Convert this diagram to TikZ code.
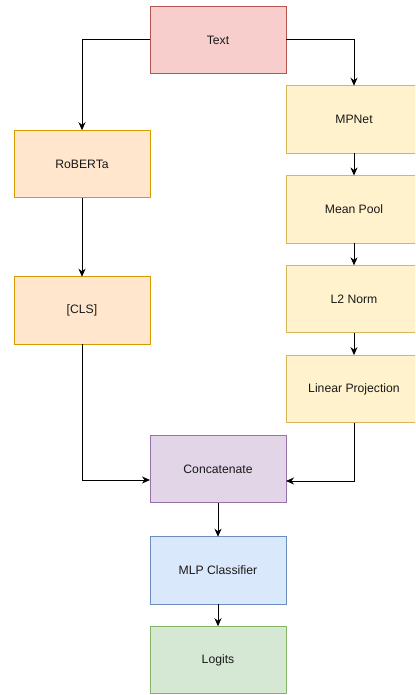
\documentclass[tikz,border=0pt]{standalone}
\usepackage{fontspec}
\setmainfont{Liberation Sans}
\usepackage{xcolor}
\usetikzlibrary{arrows.meta, positioning}

\definecolor{redfill}{HTML}{F8CECC}  \definecolor{redline}{HTML}{B85450}
\definecolor{orafill}{HTML}{FFE6CC}  \definecolor{oraline}{HTML}{D79B00}
\definecolor{yelfill}{HTML}{FFF2CC}  \definecolor{yelline}{HTML}{D6B656}
\definecolor{purfill}{HTML}{E1D5E7}  \definecolor{purline}{HTML}{9673A6}
\definecolor{bluefill}{HTML}{DAE8FC} \definecolor{blueline}{HTML}{6C8EBF}
\definecolor{grnfill}{HTML}{D5E8D4}  \definecolor{grnline}{HTML}{82B366}

\begin{document}
\begin{tikzpicture}[x=1pt, y=-1pt, node distance=22.3pt, line width=1pt,
    >={Stealth[length=8pt, width=7pt, inset=2.5pt]}]
    \tikzstyle{block} = [rectangle, draw, minimum width=136pt, minimum height=67.5pt, inner sep=0pt, outer sep=0pt, font=\fontsize{12.2}{14}\selectfont, text=black!90]
    \tikzstyle{inbox} = [block, fill=redfill, draw=redline]
    \tikzstyle{robbox} = [block, fill=orafill, draw=oraline]
    \tikzstyle{mpnbox} = [block, fill=yelfill, draw=yelline]
    \tikzstyle{mergebox} = [block, fill=purfill, draw=purline]
    \tikzstyle{headbox} = [block, fill=bluefill, draw=blueline]
    \tikzstyle{outbox} = [block, fill=grnfill, draw=grnline]

    \useasboundingbox (0,0) rectangle (415,695);
    \clip (0,0) rectangle (415,695);

    \node [inbox] (txt) at (218,40) {Text};
    % left branch
    \node [robbox] (roberta) at (82,164) {RoBERTa};
    \node [robbox, below=79pt of roberta] (cls) {[CLS]};
    % right branch
    \node [mpnbox] (mpnet) at (354,119.5) {MPNet};
    \node [mpnbox, below=of mpnet] (pool) {Mean Pool};
    \node [mpnbox, below=of pool] (norm) {L2 Norm};
    \node [mpnbox, below=of norm] (proj) {Linear Projection};
    % fusion and head
    \node [mergebox] (concat) at (218,469) {Concatenate};
    \node [headbox, below=34pt of concat] (mlp) {MLP Classifier};
    \node [outbox, below=22pt of mlp] (logits) {Logits};

    \draw [->] (txt.west) -| (roberta.north);
    \draw [->] (txt.east) -| (mpnet.north);
    \draw [->] (roberta) -- (cls);
    \draw [->] (mpnet) -- (pool);
    \draw [->] (pool) -- (norm);
    \draw [->] (norm) -- (proj);
    \draw [->] (cls.south) |- ([yshift=-11pt]concat.west);
    \draw [->] (proj.south) |- ([yshift=-12pt]concat.east);
    \draw [->] (concat) -- (mlp);
    \draw [->] (mlp) -- (logits);
\end{tikzpicture}
\end{document}
